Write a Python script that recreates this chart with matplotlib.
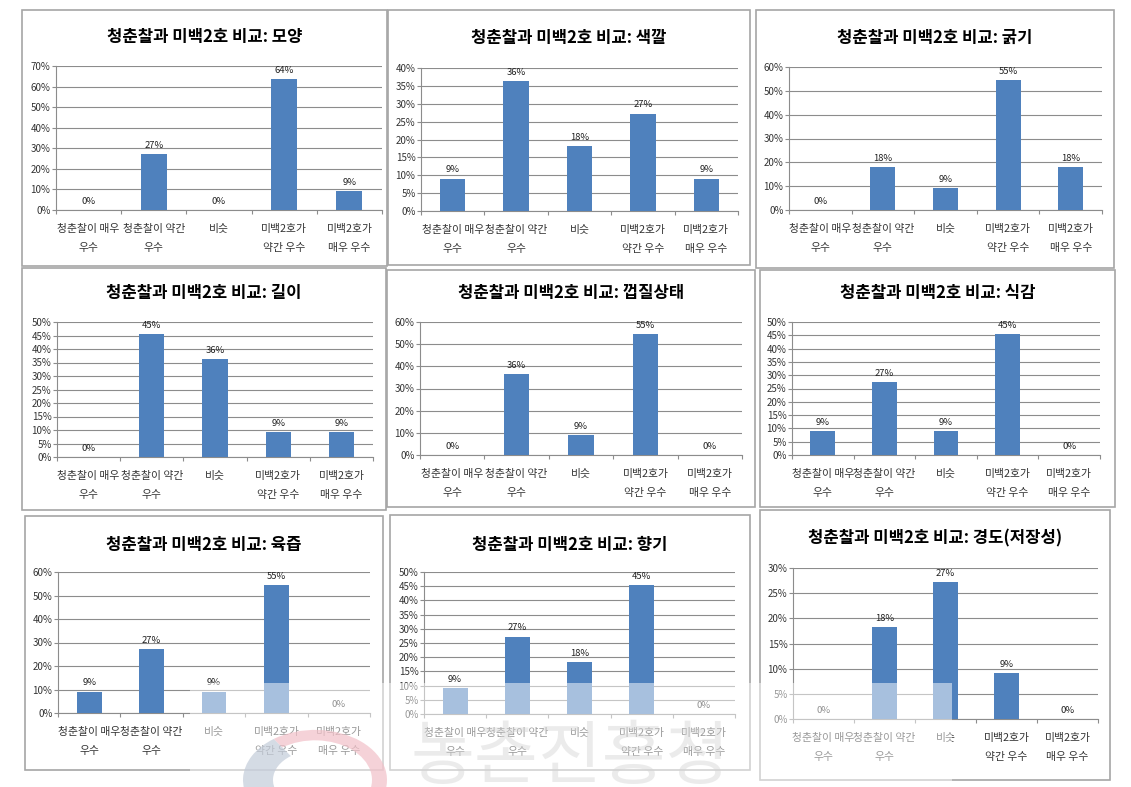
import matplotlib.pyplot as plt
from matplotlib.patches import Rectangle, Wedge
from matplotlib.ticker import MultipleLocator, FuncFormatter

plt.rcParams['font.family'] = ['Noto Sans CJK KR', 'DejaVu Sans']

# data
categories = ["청춘찰이 매우\n우수", "청춘찰이 약간\n우수", "비슷", "미백2호가\n약간 우수", "미백2호가\n매우 우수"]
titles = ["모양", "색깔", "굵기", "길이", "껍질상태", "식감", "육즙", "향기", "경도(저장성)"]
shape_vals = [0, 27.27, 0, 63.64, 9.09]
color_vals = [9.09, 36.36, 18.18, 27.27, 9.09]
thick_vals = [0, 18.18, 9.09, 54.55, 18.18]
length_vals = [0, 45.45, 36.36, 9.09, 9.09]
skin_vals = [0, 36.36, 9.09, 54.55, 0]
texture_vals = [9.09, 27.27, 9.09, 45.45, 0]
juice_vals = [9.09, 27.27, 9.09, 54.55, 0]
aroma_vals = [9.09, 27.27, 18.18, 45.45, 0]
hard_vals = [0, 18.18, 27.27, 9.09, 0]
all_vals = [shape_vals, color_vals, thick_vals, length_vals, skin_vals,
            texture_vals, juice_vals, aroma_vals, hard_vals]
y_max = [70, 40, 60, 50, 60, 50, 60, 50, 30]
y_step = [10, 5, 10, 5, 10, 5, 10, 5, 5]

W, H = 1131, 787

# layout in pixels (left, top, right, bottom)
plot_boxes = [
    (56, 66, 382, 210), (421, 68, 738, 211), (789, 67, 1102, 210),
    (57, 322, 373, 457), (420, 322, 742, 455), (792, 322, 1100, 455),
    (58, 572, 370, 713), (424, 572, 735, 714), (793, 568, 1098, 719),
]
frames = [
    (22, 10, 387, 266), (388, 10, 750, 265), (756, 10, 1114, 268),
    (22, 268, 386, 510), (387, 270, 755, 507), (760, 270, 1115, 507),
    (25, 516, 383, 770), (390, 515, 750, 770), (760, 510, 1110, 780),
]
title_y = [37, 38, 38, 293, 293, 293, 545, 545, 538]

BAR = '#4F81BD'
GRID = '#8c8c8c'

fig = plt.figure(figsize=(W / 100, H / 100), dpi=100)
fig.patch.set_facecolor('white')

for i in range(9):
    fl, ft, fr, fb = frames[i]
    fig.patches.append(Rectangle((fl / W, 1 - fb / H), (fr - fl) / W, (fb - ft) / H,
                                 transform=fig.transFigure, fill=False,
                                 edgecolor='#a6a6a6', lw=1.2, zorder=0))
    fig.text((fl + fr) / 2 / W, 1 - title_y[i] / H, "청춘찰과 미백2호 비교: " + titles[i],
             ha='center', va='center', fontsize=12, fontweight='bold', color='black')

    l, t, r, b = plot_boxes[i]
    ax = fig.add_axes([l / W, 1 - b / H, (r - l) / W, (b - t) / H])
    vals = all_vals[i]
    x = range(len(categories))
    ax.bar(x, vals, width=0.4, color=BAR, zorder=3)
    for xi, v in zip(x, vals):
        ax.annotate(f"{v:.0f}%", (xi, v), xytext=(0, 3), textcoords='offset points',
                    ha='center', va='bottom', fontsize=6.8, color='#222222')
    ax.set_xlim(-0.5, len(categories) - 0.5)
    ax.set_ylim(0, y_max[i])
    ax.yaxis.set_major_locator(MultipleLocator(y_step[i]))
    ax.yaxis.set_major_formatter(FuncFormatter(lambda v, p: f"{v:.0f}%"))
    ax.grid(axis='y', color=GRID, lw=0.8, zorder=0)
    ax.set_axisbelow(True)
    for s in ['top', 'right']:
        ax.spines[s].set_visible(False)
    ax.spines['left'].set_color(GRID)
    ax.spines['bottom'].set_color(GRID)
    ax.set_xticks([k + 0.5 for k in range(-1, len(categories))], minor=False)
    ax.set_xticklabels([])
    ax.set_xticks(list(x), minor=True)
    ax.set_xticklabels(categories, minor=True)
    ax.tick_params(axis='x', which='major', length=3, color=GRID, direction='out')
    ax.tick_params(axis='x', which='minor', length=0, pad=10, labelsize=7.8, labelcolor='#333333')
    ax.tick_params(axis='y', length=3, color=GRID, pad=1, labelsize=7, labelcolor='#333333')
    for lab in ax.get_xticklabels(minor=True):
        lab.set_linespacing(2.15)

# watermark overlay on the lower row
fig.patches.append(Rectangle((190 / W, 0), (952 - 190) / W, (H - 683) / H,
                             transform=fig.transFigure, facecolor='white',
                             edgecolor='none', alpha=0.5, zorder=1))
fig.patches.append(Wedge((315 / W, 1 - 780 / H), 72 / W, -25, 125, width=15 / W,
                         transform=fig.transFigure, facecolor='#f2c0c8',
                         edgecolor='none', alpha=0.7, zorder=2))
fig.patches.append(Wedge((315 / W, 1 - 780 / H), 72 / W, 125, 335, width=30 / W,
                         transform=fig.transFigure, facecolor='#c3ccd9',
                         edgecolor='none', alpha=0.7, zorder=2))
fig.text(570 / W, 1 - 758 / H, "농촌진흥청", ha='center', va='center', fontsize=50,
         color='#d4d4d4', alpha=0.45, zorder=2)

fig.savefig('out.png', dpi=100)
